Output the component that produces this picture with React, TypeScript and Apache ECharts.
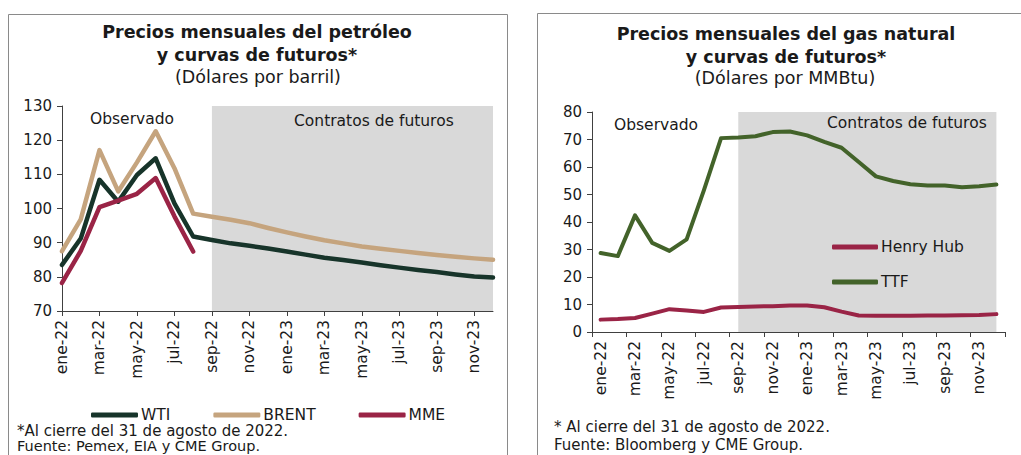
import React, { useEffect, useRef } from "react";
import * as echarts from "echarts";

const months = [
  "ene-22", "feb-22", "mar-22", "abr-22", "may-22", "jun-22", "jul-22", "ago-22",
  "sep-22", "oct-22", "nov-22", "dic-22", "ene-23", "feb-23", "mar-23", "abr-23",
  "may-23", "jun-23", "jul-23", "ago-23", "sep-23", "oct-23", "nov-23", "dic-23",
];

const wti = [83.5, 91.2, 108.4, 102.0, 109.8, 114.7, 101.5, 91.8, 90.8, 89.8, 89.1, 88.3,
  87.4, 86.5, 85.6, 84.9, 84.2, 83.4, 82.7, 82.0, 81.4, 80.7, 80.1, 79.8];
const brent = [87.5, 96.8, 117.1, 105.0, 113.5, 122.6, 111.8, 98.5, 97.6, 96.7, 95.7, 94.3,
  93.0, 91.8, 90.7, 89.8, 88.9, 88.2, 87.6, 87.0, 86.4, 85.9, 85.4, 85.0];
const mme = [78.2, 87.6, 100.4, 102.3, 104.3, 108.9, 97.7, 87.4];

const ttf = [28.7, 27.6, 42.4, 32.4, 29.5, 33.7, 51.5, 70.5, 70.7, 71.2, 72.7, 72.9,
  71.5, 69.1, 67.0, 61.8, 56.6, 54.9, 53.7, 53.3, 53.3, 52.6, 53.0, 53.6];
const henryHub = [4.5, 4.7, 5.1, 6.7, 8.3, 7.8, 7.3, 8.9, 9.1, 9.3, 9.4, 9.6,
  9.6, 9.0, 7.4, 6.0, 5.9, 5.9, 5.9, 6.0, 6.0, 6.1, 6.2, 6.5];

const futuresStart = "sep-22";
const futuresEnd = "dic-23";

const FONT = "DejaVu Sans";
const TXT = "#1a1a1a";
const AX = "#404040";

const C_WTI = "#17342a";
const C_BRENT = "#c5a47e";
const C_MME = "#9a2446";
const C_TTF = "#43632a";
const C_HH = "#9a2446";
const SHADE = "#d9d9d9";

function text(x: number, y: number, t: string, size: number, weight: any = "normal", align = "left") {
  return {
    type: "text",
    x,
    y,
    z: 100,
    silent: true,
    style: {
      text: t,
      fontSize: size,
      fontWeight: weight,
      fontFamily: FONT,
      fill: TXT,
      textAlign: align,
      textVerticalAlign: "middle",
    },
  };
}

export default function App() {
  const ref = useRef<HTMLDivElement>(null);
  useEffect(() => {
    if (!ref.current) return;
    const chart = echarts.init(ref.current, null, { renderer: "svg" });
    const xCommon = {
      type: "category",
      data: months,
      axisLine: { show: true, lineStyle: { color: AX, width: 1 } },
      axisTick: { show: true, interval: 1, length: 5, lineStyle: { color: AX } },
      axisLabel: { interval: 1, rotate: 90, fontSize: 15.5, color: TXT, fontFamily: FONT, margin: 9 },
      splitLine: { show: false },
    };
    const yCommon = {
      type: "value",
      axisLine: { show: true, lineStyle: { color: AX, width: 1 } },
      axisTick: { show: true, length: 5, lineStyle: { color: AX } },
      axisLabel: { fontSize: 15, color: TXT, fontFamily: FONT, margin: 10 },
      splitLine: { show: false },
    };
    const lineBase = {
      type: "line",
      showSymbol: false,
      symbol: "none",
      smooth: false,
      silent: true,
    };
    chart.setOption({
      animation: false,
      textStyle: { fontFamily: FONT },
      grid: [
        { left: 62, top: 106, width: 431, height: 205, containLabel: false },
        { left: 592, top: 112, width: 413, height: 220, containLabel: false },
      ],
      xAxis: [
        { ...xCommon, gridIndex: 0, boundaryGap: false },
        { ...xCommon, gridIndex: 1, boundaryGap: true },
      ],
      yAxis: [
        { ...yCommon, gridIndex: 0, min: 70, max: 130, interval: 10 },
        { ...yCommon, gridIndex: 1, min: 0, max: 80, interval: 10 },
      ],
      legend: [
        {
          data: ["WTI", "BRENT", "MME"],
          left: 86,
          top: 402,
          orient: "horizontal",
          icon: "roundRect",
          itemWidth: 47,
          itemHeight: 5,
          itemGap: 43,
          textStyle: { fontSize: 15.5, color: TXT, fontFamily: FONT, padding: [0, 0, 0, -2] },
          selectedMode: false,
        },
        {
          data: ["Henry Hub", "TTF"],
          left: 827,
          top: 234,
          orient: "vertical",
          icon: "roundRect",
          itemWidth: 46,
          itemHeight: 5,
          itemGap: 19,
          textStyle: { fontSize: 15.5, color: TXT, fontFamily: FONT, padding: [0, 0, 0, -2] },
          selectedMode: false,
        },
      ],
      series: [
        {
          ...lineBase,
          name: "WTI",
          xAxisIndex: 0,
          yAxisIndex: 0,
          data: wti,
          color: C_WTI,
          lineStyle: { color: C_WTI, width: 4.5, cap: "round", join: "round" },
          markArea: {
            silent: true,
            itemStyle: { color: SHADE },
            data: [[{ xAxis: futuresStart }, { xAxis: futuresEnd }]],
          },
          z: 3,
        },
        {
          ...lineBase,
          name: "BRENT",
          xAxisIndex: 0,
          yAxisIndex: 0,
          data: brent,
          color: C_BRENT,
          lineStyle: { color: C_BRENT, width: 4.5, cap: "round", join: "round" },
          z: 2,
        },
        {
          ...lineBase,
          name: "MME",
          xAxisIndex: 0,
          yAxisIndex: 0,
          data: mme,
          color: C_MME,
          lineStyle: { color: C_MME, width: 4.5, cap: "round", join: "round" },
          z: 4,
        },
        {
          ...lineBase,
          name: "Henry Hub",
          xAxisIndex: 1,
          yAxisIndex: 1,
          data: henryHub,
          color: C_HH,
          lineStyle: { color: C_HH, width: 4, cap: "round", join: "round" },
          markArea: {
            silent: true,
            itemStyle: { color: SHADE },
            data: [[{ xAxis: futuresStart }, { xAxis: futuresEnd }]],
          },
        },
        {
          ...lineBase,
          name: "TTF",
          xAxisIndex: 1,
          yAxisIndex: 1,
          data: ttf,
          color: C_TTF,
          lineStyle: { color: C_TTF, width: 4, cap: "round", join: "round" },
        },
      ],
      graphic: [
        {
          type: "rect",
          silent: true,
          shape: { x: 8.5, y: 14.5, width: 499, height: 470 },
          style: { fill: "none", stroke: "#8a8a8a", lineWidth: 1 },
        },
        {
          type: "rect",
          silent: true,
          shape: { x: 537.5, y: 13.5, width: 500, height: 470 },
          style: { fill: "none", stroke: "#8a8a8a", lineWidth: 1 },
        },
        text(257, 32, "Precios mensuales del petróleo", 17.5, "bold", "center"),
        text(257, 55, "y curvas de futuros*", 17.5, "bold", "center"),
        text(258, 77, "(Dólares por barril)", 17.5, "normal", "center"),
        text(786, 34, "Precios mensuales del gas natural", 17.5, "bold", "center"),
        text(786, 57, "y curvas de futuros*", 17.5, "bold", "center"),
        text(785, 78, "(Dólares por MMBtu)", 17.5, "normal", "center"),
        text(90, 119, "Observado", 15.5),
        text(294, 121, "Contratos de futuros", 15.5),
        text(614, 125, "Observado", 15.5),
        text(827, 123, "Contratos de futuros", 15.5),
        text(17, 431, "*Al cierre del 31 de agosto de 2022.", 15),
        text(17, 446, "Fuente: Pemex, EIA y CME Group.", 14.5),
        text(554, 427, "* Al cierre del 31 de agosto de 2022.", 15),
        text(554, 445, "Fuente: Bloomberg y CME Group.", 15),
      ],
    });
    return () => chart.dispose();
  }, []);
  return (
    <div
      ref={ref}
      style={{ position: "fixed", left: 0, top: 0, width: 1021, height: 455, background: "#fff" }}
    />
  );
}
